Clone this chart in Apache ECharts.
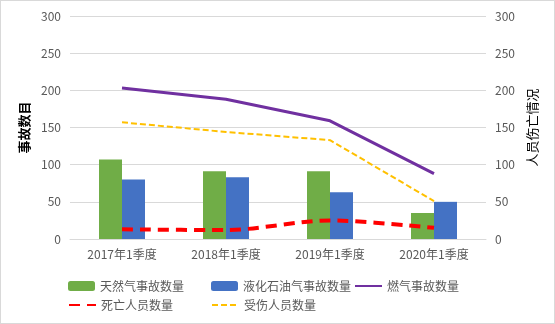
<!DOCTYPE html>
<html>
<head>
<meta charset="utf-8">
<script src="https://cdn.jsdelivr.net/npm/echarts@6/dist/echarts.min.js"></script>
<style>
  html, body { margin: 0; padding: 0; background: #fff; }
  #chart { width: 555px; height: 324px; box-sizing: border-box; border: 1px solid #d9d9d9; }
</style>
</head>
<body>
<div id="chart"></div>
<script>
// Quarterly gas accident statistics
const categories = ['2017年1季度', '2018年1季度', '2019年1季度', '2020年1季度'];
const naturalGas = [107, 91, 91, 35];      // 天然气事故数量
const lpg = [80, 83, 63, 50];              // 液化石油气事故数量
const totalGas = [203, 188, 159, 88];      // 燃气事故数量
const deaths = [13, 12, 25, 15];           // 死亡人员数量
const injured = [157, 144, 133, 51];       // 受伤人员数量
const axisTicks = [0, 50, 100, 150, 200, 250, 300];

const FONT = '"Noto Sans CJK SC", "Noto Sans", sans-serif';
const GREY = '#595959';

const chart = echarts.init(document.getElementById('chart'), null, { renderer: 'canvas' });

function legendAt(name, left, top, isLine) {
  const lg = {
    data: [name], left: left, top: top, itemWidth: 27, itemHeight: 10, itemGap: 0,
    textStyle: { color: GREY, fontSize: 12, fontFamily: FONT },
    padding: 0
  };
  if (isLine) lg.itemStyle = { opacity: 0 };
  return lg;
}

const yAxisBase = {
  type: 'value', min: axisTicks[0], max: axisTicks[axisTicks.length - 1], interval: 50,
  nameLocation: 'middle', nameRotate: 90,
  axisLine: { show: false }, axisTick: { show: false },
  axisLabel: { color: GREY, fontSize: 12, fontFamily: FONT, margin: 9 },
  splitLine: { lineStyle: { color: '#d9d9d9', width: 1 } }
};

chart.setOption({
  animation: false,
  textStyle: { fontFamily: FONT },
  grid: { left: 69, right: 68, top: 15, bottom: 84 },
  legend: [
    legendAt('天然气事故数量', 67, 279, false),
    legendAt('液化石油气事故数量', 210, 279, false),
    legendAt('燃气事故数量', 353, 279, true),
    legendAt('死亡人员数量', 67, 298, true),
    legendAt('受伤人员数量', 210, 298, true)
  ],
  xAxis: {
    type: 'category', data: categories,
    axisLine: { lineStyle: { color: '#d9d9d9' } },
    axisTick: { show: false },
    axisLabel: { color: GREY, fontSize: 12, fontFamily: FONT, margin: 9 }
  },
  yAxis: [
    Object.assign({}, yAxisBase, {
      name: '事故数目', nameGap: 39, position: 'left',
      nameTextStyle: { color: '#000', fontSize: 13, fontFamily: FONT, fontWeight: 'bold' }
    }),
    Object.assign({}, yAxisBase, {
      name: '人员伤亡情况', nameGap: 40, position: 'right',
      nameTextStyle: { color: '#000', fontSize: 13, fontFamily: FONT }
    })
  ],
  series: [
    { name: '天然气事故数量', type: 'bar', data: naturalGas, barWidth: 23, barGap: '0%',
      itemStyle: { color: '#70ad47' } },
    { name: '液化石油气事故数量', type: 'bar', data: lpg, barWidth: 23, barGap: '0%',
      itemStyle: { color: '#4472c4' } },
    { name: '燃气事故数量', type: 'line', data: totalGas, symbol: 'none',
      lineStyle: { color: '#7030a0', width: 3 }, itemStyle: { color: '#7030a0' } },
    { name: '死亡人员数量', type: 'line', yAxisIndex: 1, data: deaths, symbol: 'none', smooth: 0.3,
      lineStyle: { color: '#ff0000', width: 4, type: [11, 7] }, itemStyle: { color: '#ff0000' } },
    { name: '受伤人员数量', type: 'line', yAxisIndex: 1, data: injured, symbol: 'none',
      lineStyle: { color: '#ffc000', width: 2, type: [6, 3] }, itemStyle: { color: '#ffc000' } }
  ]
});
</script>
</body>
</html>
